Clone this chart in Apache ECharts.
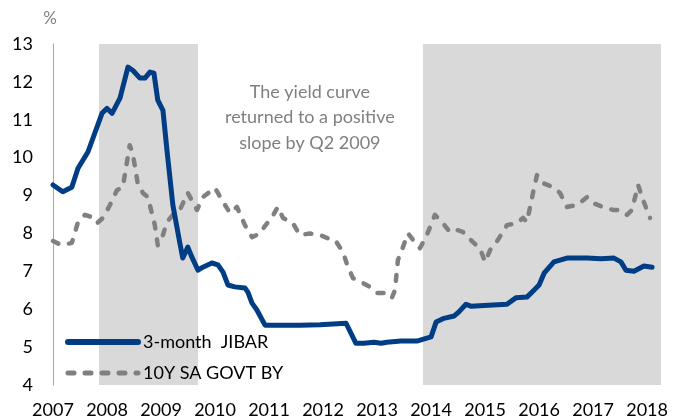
<!DOCTYPE html>
<html>
<head>
<meta charset="utf-8">
<script src="https://cdn.jsdelivr.net/npm/echarts@6/dist/echarts.min.js"></script>
<style>
  html, body { margin: 0; padding: 0; background: #ffffff; }
  #chart { width: 674px; height: 420px; }
</style>
</head>
<body>
<div id="chart"></div>
<script>
// 3-month JIBAR, %
const jibarDates = [
  '2007-01-01','2007-03-08','2007-05-08','2007-06-19','2007-08-25','2007-11-28',
  '2008-01-01','2008-02-04','2008-03-29','2008-05-22','2008-06-25','2008-08-11',
  '2008-09-14','2008-10-18','2008-11-14','2008-12-10','2009-01-14','2009-02-10',
  '2009-03-22','2009-05-08','2009-05-28','2009-07-01','2009-07-28','2009-09-08',
  '2009-10-11','2009-12-11','2010-01-21','2010-02-24','2010-03-29','2010-05-15',
  '2010-07-22','2010-08-11','2010-09-08','2010-10-11','2010-12-05','2011-02-24',
  '2011-07-28','2011-12-11','2012-06-05','2012-08-11','2012-10-04','2012-12-11',
  '2013-01-28','2013-03-08','2013-06-11','2013-09-27','2014-01-01','2014-02-04',
  '2014-03-29','2014-06-05','2014-07-08','2014-08-25','2014-09-27','2014-12-25',
  '2015-05-29','2015-07-28','2015-10-11','2015-11-27','2016-01-01','2016-02-04',
  '2016-04-11','2016-07-08','2016-11-21','2017-02-24','2017-05-22','2017-07-08',
  '2017-08-11','2017-10-04','2017-12-11','2018-02-04'
];
const jibarValues = [
  9.28, 9.10, 9.22, 9.72, 10.15, 11.17,
  11.30, 11.17, 11.57, 12.39, 12.30, 12.10,
  12.10, 12.26, 12.23, 11.52, 11.25, 10.20,
  8.75, 7.75, 7.35, 7.64, 7.38, 7.03,
  7.11, 7.22, 7.17, 6.98, 6.64, 6.59,
  6.56, 6.45, 6.16, 5.98, 5.58, 5.58,
  5.58, 5.59, 5.63, 5.10, 5.10, 5.13,
  5.10, 5.13, 5.16, 5.16, 5.27, 5.66,
  5.76, 5.82, 5.93, 6.13, 6.08, 6.10,
  6.13, 6.30, 6.32, 6.50, 6.64, 6.95,
  7.25, 7.35, 7.35, 7.33, 7.35, 7.25,
  7.03, 7.00, 7.14, 7.11
];

// 10-year SA government bond yield, %
const govtDates = [
  '2007-01-01','2007-03-01','2007-05-08','2007-06-19','2007-08-05','2007-09-21',
  '2007-10-25','2007-12-05','2008-01-21','2008-03-08','2008-04-17','2008-06-03',
  '2008-06-23','2008-07-27','2008-08-31','2008-10-04','2008-11-20','2008-12-10',
  '2009-01-14','2009-02-10','2009-03-22','2009-05-08','2009-07-01','2009-09-01',
  '2009-10-11','2010-01-01','2010-02-17','2010-04-12','2010-05-29','2010-07-22',
  '2010-09-08','2010-11-01','2010-12-05','2011-01-21','2011-03-02','2011-04-05',
  '2011-06-11','2011-07-28','2011-10-04','2011-12-11','2012-01-28','2012-03-22',
  '2012-05-15','2012-06-18','2012-07-22','2012-09-27','2012-11-13','2013-01-01',
  '2013-03-08','2013-04-11','2013-05-02','2013-05-22','2013-06-25','2013-07-29',
  '2013-09-01','2013-10-18','2013-12-04','2014-01-27','2014-03-22','2014-05-08',
  '2014-06-18','2014-08-04','2014-10-11','2014-11-27','2015-01-01','2015-02-04',
  '2015-03-29','2015-05-29','2015-08-05','2015-09-14','2015-10-11','2015-11-21',
  '2015-12-18','2016-01-27','2016-04-04','2016-05-22','2016-07-08','2016-09-14',
  '2016-11-21','2017-01-01','2017-03-08','2017-05-15','2017-07-01','2017-08-18',
  '2017-09-21','2017-11-01','2017-12-05','2018-01-21'
];
const govtValues = [
  7.80, 7.69, 7.75, 8.30, 8.49, 8.43,
  8.27, 8.41, 8.75, 9.14, 9.22, 10.33,
  10.12, 9.33, 9.07, 8.96, 8.22, 7.69,
  7.96, 8.30, 8.49, 8.62, 9.07, 8.62,
  8.96, 9.20, 8.88, 8.54, 8.70, 8.22,
  7.90, 8.00, 8.20, 8.43, 8.70, 8.41,
  8.27, 7.96, 8.00, 7.96, 7.88, 7.83,
  7.51, 7.11, 6.82, 6.69, 6.59, 6.43,
  6.43, 6.30, 6.50, 7.30, 7.64, 8.00,
  7.83, 7.61, 7.96, 8.49, 8.27, 8.04,
  8.10, 8.04, 7.77, 7.61, 7.25, 7.56,
  7.83, 8.22, 8.27, 8.41, 8.30, 9.07,
  9.54, 9.33, 9.22, 9.07, 8.70, 8.75,
  8.96, 8.80, 8.70, 8.62, 8.62, 8.49,
  8.62, 9.28, 8.88, 8.41
];

// Shaded periods [start, end]
const shadedPeriods = [
  ['2007-11-08', '2009-09-08'],
  ['2013-11-07', '2018-04-05']
];

const seriesNames = ['3-month  JIBAR', '10Y SA GOVT BY'];
const yearTicks = [2007, 2008, 2009, 2010, 2011, 2012, 2013, 2014, 2015, 2016, 2017, 2018];
const axisStart = '2007-01-01';
const axisEnd = '2018-04-05';
const annotation = ['The yield curve', 'returned to a positive', 'slope by Q2 2009'];

// Convert a YYYY-MM-DD string to a fractional year
function toYear(s) {
  const [y, m, d] = s.split('-').map(Number);
  const a = Date.UTC(y, 0, 1), b = Date.UTC(y + 1, 0, 1);
  return y + (Date.UTC(y, m - 1, d) - a) / (b - a);
}
const pairs = (dates, vals) => dates.map((d, i) => [toYear(d), vals[i]]);

const BLUE = '#003d84';
const GREY = '#808080';
const FONT = 'Lato, "Noto Sans", sans-serif';
const chart = echarts.init(document.getElementById('chart'), null, { renderer: 'canvas' });

chart.setOption({
  backgroundColor: '#ffffff',
  animation: false,
  grid: { left: 53, right: 13, top: 44, bottom: 35, containLabel: false },
  xAxis: {
    type: 'value',
    min: toYear(axisStart),
    max: toYear(axisEnd),
    interval: 1,
    axisLine: { show: false },
    axisTick: { show: false },
    splitLine: { show: false },
    axisLabel: {
      showMaxLabel: false,
      margin: 16,
      color: '#000000',
      fontFamily: FONT,
      fontSize: 18,
      formatter: v => (yearTicks.indexOf(Math.round(v)) >= 0 && Math.abs(v - Math.round(v)) < 1e-6) ? String(Math.round(v)) : ''
    }
  },
  yAxis: {
    type: 'value',
    min: 4,
    max: 13,
    interval: 1,
    name: '%',
    nameLocation: 'end',
    nameGap: 17,
    nameTextStyle: { color: '#7f7f7f', fontFamily: FONT, fontSize: 17, align: 'right', padding: [0, -4, 0, 0] },
    axisLine: { show: true, lineStyle: { color: '#a6a6a6', width: 1 } },
    axisTick: { show: false },
    splitLine: { show: false },
    axisLabel: { margin: 20, color: '#000000', fontFamily: FONT, fontSize: 18 }
  },
  legend: {
    data: [
      {
        name: seriesNames[0],
        itemStyle: { opacity: 0 },
        lineStyle: { color: BLUE, width: 6, type: 'solid', cap: 'round' }
      },
      {
        name: seriesNames[1],
        itemStyle: { opacity: 0 },
        lineStyle: { color: GREY, width: 5, type: [6, 11], cap: 'round' }
      }
    ],
    orient: 'vertical',
    left: 60,
    top: 326,
    itemWidth: 70,
    itemHeight: 14,
    itemGap: 9,
    textStyle: { color: '#000000', fontFamily: FONT, fontSize: 18, lineHeight: 22 }
  },
  graphic: [{
    type: 'text',
    left: 325 - 100,
    top: 79,
    style: {
      text: annotation.join('\n'),
      x: 100,
      textAlign: 'center',
      fill: GREY,
      font: '18px ' + FONT,
      lineHeight: 25.5
    }
  }],
  series: [
    {
      name: 'shading',
      type: 'line',
      data: [],
      silent: true,
      z: 1,
      markArea: {
        silent: true,
        itemStyle: { color: '#d9d9d9' },
        data: shadedPeriods.map(p => [{ xAxis: toYear(p[0]) }, { xAxis: toYear(p[1]) }])
      }
    },
    {
      name: seriesNames[1],
      type: 'line',
      data: pairs(govtDates, govtValues),
      showSymbol: false,
      symbol: 'none',
      z: 2,
      lineStyle: { color: GREY, width: 4.5, type: [6, 11], cap: 'round', join: 'round' },
      itemStyle: { color: GREY }
    },
    {
      name: seriesNames[0],
      type: 'line',
      data: pairs(jibarDates, jibarValues),
      showSymbol: false,
      symbol: 'none',
      z: 3,
      lineStyle: { color: BLUE, width: 5, cap: 'round', join: 'round' },
      itemStyle: { color: BLUE }
    }
  ]
});
</script>
</body>
</html>
